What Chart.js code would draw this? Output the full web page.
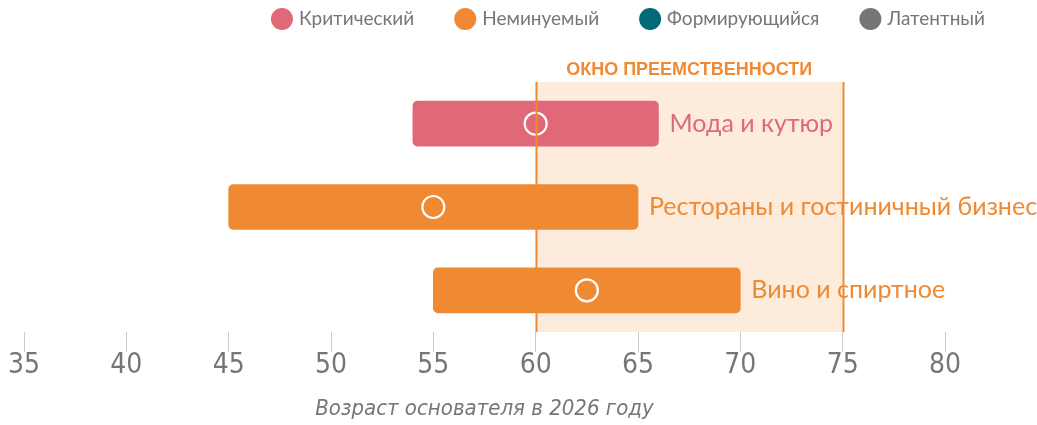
<!DOCTYPE html>
<html>
<head>
<meta charset="utf-8">
<script src="https://cdn.jsdelivr.net/npm/chart.js@4.4.1/dist/chart.umd.min.js"></script>
<style>
  html, body { margin: 0; padding: 0; background: #fff; }
  #wrap { width: 1037px; height: 425px; position: relative; }
</style>
</head>
<body>
<div id="wrap"><canvas id="myChart"></canvas></div>
<script>
// datos
const sectors = ["Мода и кутюр", "Рестораны и гостиничный бизнес", "Вино и спиртное"];
const ageFrom = [54, 45, 55];
const ageTo = [66, 65, 70];
const ageMid = [60, 55, 62.5];
const sectorStatus = [0, 1, 1];

const legendLabels = ["Критический", "Неминуемый", "Формирующийся", "Латентный"];
const legendColors = ["#e06877", "#ef8a33", "#006a78", "#767676"];

const xTicks = [35, 40, 45, 50, 55, 60, 65, 70, 75, 80];
const windowFrom = 60;
const windowTo = 75;
const windowTitle = "ОКНО ПРЕЕМСТВЕННОСТИ";
const axisTitle = "Возраст основателя в 2026 году";

const GREY = "#767676";
const ORANGE = "#ef8a33";

const barColors = sectorStatus.map(s => legendColors[s]);

// ventana sombreada
const windowPlugin = {
  id: "windowPlugin",
  beforeDatasetsDraw(chart) {
    const { ctx, chartArea, scales } = chart;
    const x1 = scales.x.getPixelForValue(windowFrom);
    const x2 = scales.x.getPixelForValue(windowTo);
    ctx.save();
    ctx.fillStyle = "#fdecdc";
    ctx.fillRect(x1, chartArea.top, x2 - x1, chartArea.bottom - chartArea.top);
    ctx.fillStyle = ORANGE;
    ctx.font = "bold 18px 'Liberation Sans Narrow', 'Liberation Sans', sans-serif";
    ctx.textAlign = "center";
    ctx.textBaseline = "middle";
    ctx.fillText(windowTitle, (x1 + x2) / 2, chartArea.top - 12);
    ctx.restore();
  },
  afterDatasetsDraw(chart) {
    const { ctx, chartArea, scales } = chart;
    // etiquetas de las barras
    const meta = chart.getDatasetMeta(0);
    ctx.save();
    ctx.font = "25px Lato, sans-serif";
    ctx.textAlign = "left";
    ctx.textBaseline = "middle";
    meta.data.forEach((bar, i) => {
      ctx.fillStyle = barColors[i];
      ctx.fillText(sectors[i], bar.x + 11, bar.y);
    });
    // lineas de la ventana
    ctx.strokeStyle = ORANGE;
    ctx.lineWidth = 2;
    [windowFrom, windowTo].forEach(v => {
      const x = Math.round(scales.x.getPixelForValue(v)) + 0.5;
      ctx.beginPath();
      ctx.moveTo(x, chartArea.top);
      ctx.lineTo(x, chartArea.bottom);
      ctx.stroke();
    });
    ctx.restore();
  },
  afterDraw(chart) {
    // leyenda
    const ctx = chart.ctx;
    ctx.save();
    ctx.font = "19px Lato, sans-serif";
    ctx.textBaseline = "middle";
    ctx.textAlign = "left";
    const r = 11, gap = 6, space = 40;
    let widths = legendLabels.map(t => 2 * r + gap + ctx.measureText(t).width);
    let total = widths.reduce((a, b) => a + b, 0) + space * (widths.length - 1);
    let x = 985 - total;
    const y = 19;
    legendLabels.forEach((t, i) => {
      ctx.fillStyle = legendColors[i];
      ctx.beginPath();
      ctx.arc(x + r, y, r, 0, Math.PI * 2);
      ctx.fill();
      ctx.fillStyle = GREY;
      ctx.fillText(t, x + 2 * r + gap, y);
      x += widths[i] + space;
    });
    ctx.restore();
  }
};

const ctx = document.getElementById("myChart").getContext("2d");
const myChart = new Chart(ctx, {
  type: "bar",
  data: {
    labels: sectors,
    datasets: [{
      type: "bar",
      data: sectors.map((s, i) => [ageFrom[i], ageTo[i]]),
      backgroundColor: barColors,
      borderRadius: 5,
      borderSkipped: false,
      barThickness: 45,
      order: 2
    }, {
      type: "line",
      indexAxis: "y",
      data: ageMid,
      showLine: false,
      pointRadius: 11,
      pointHoverRadius: 11,
      pointBackgroundColor: "rgba(0,0,0,0)",
      pointBorderColor: "#ffffff",
      pointBorderWidth: 2.2,
      order: 1
    }]
  },
  options: {
    indexAxis: "y",
    responsive: true,
    maintainAspectRatio: false,
    animation: false,
    layout: { padding: { left: 24, right: 92, top: 82, bottom: 0 } },
    plugins: {
      legend: { display: false },
      tooltip: { enabled: false }
    },
    scales: {
      y: { display: false },
      x: {
        type: "linear",
        min: 35,
        max: 80,
        afterBuildTicks: (scale) => { scale.ticks = xTicks.map(v => ({ value: v })); },
        afterFit: (scale) => { scale.height = 93; },
        grid: { drawOnChartArea: false, drawTicks: true, tickLength: 20, color: "#cccccc", lineWidth: 1 },
        border: { display: false },
        ticks: {
          color: GREY,
          padding: 0,
          font: { family: "'Liberation Sans Narrow', 'DejaVu Sans Condensed', sans-serif", size: 28, lineHeight: 1 }
        },
        title: {
          display: true,
          text: axisTitle,
          color: GREY,
          padding: { top: 4, bottom: 3 },
          font: { family: "'Liberation Sans Narrow', 'DejaVu Sans Condensed', sans-serif", size: 22, style: "italic" }
        }
      }
    }
  },
  plugins: [windowPlugin]
});
</script>
</body>
</html>
